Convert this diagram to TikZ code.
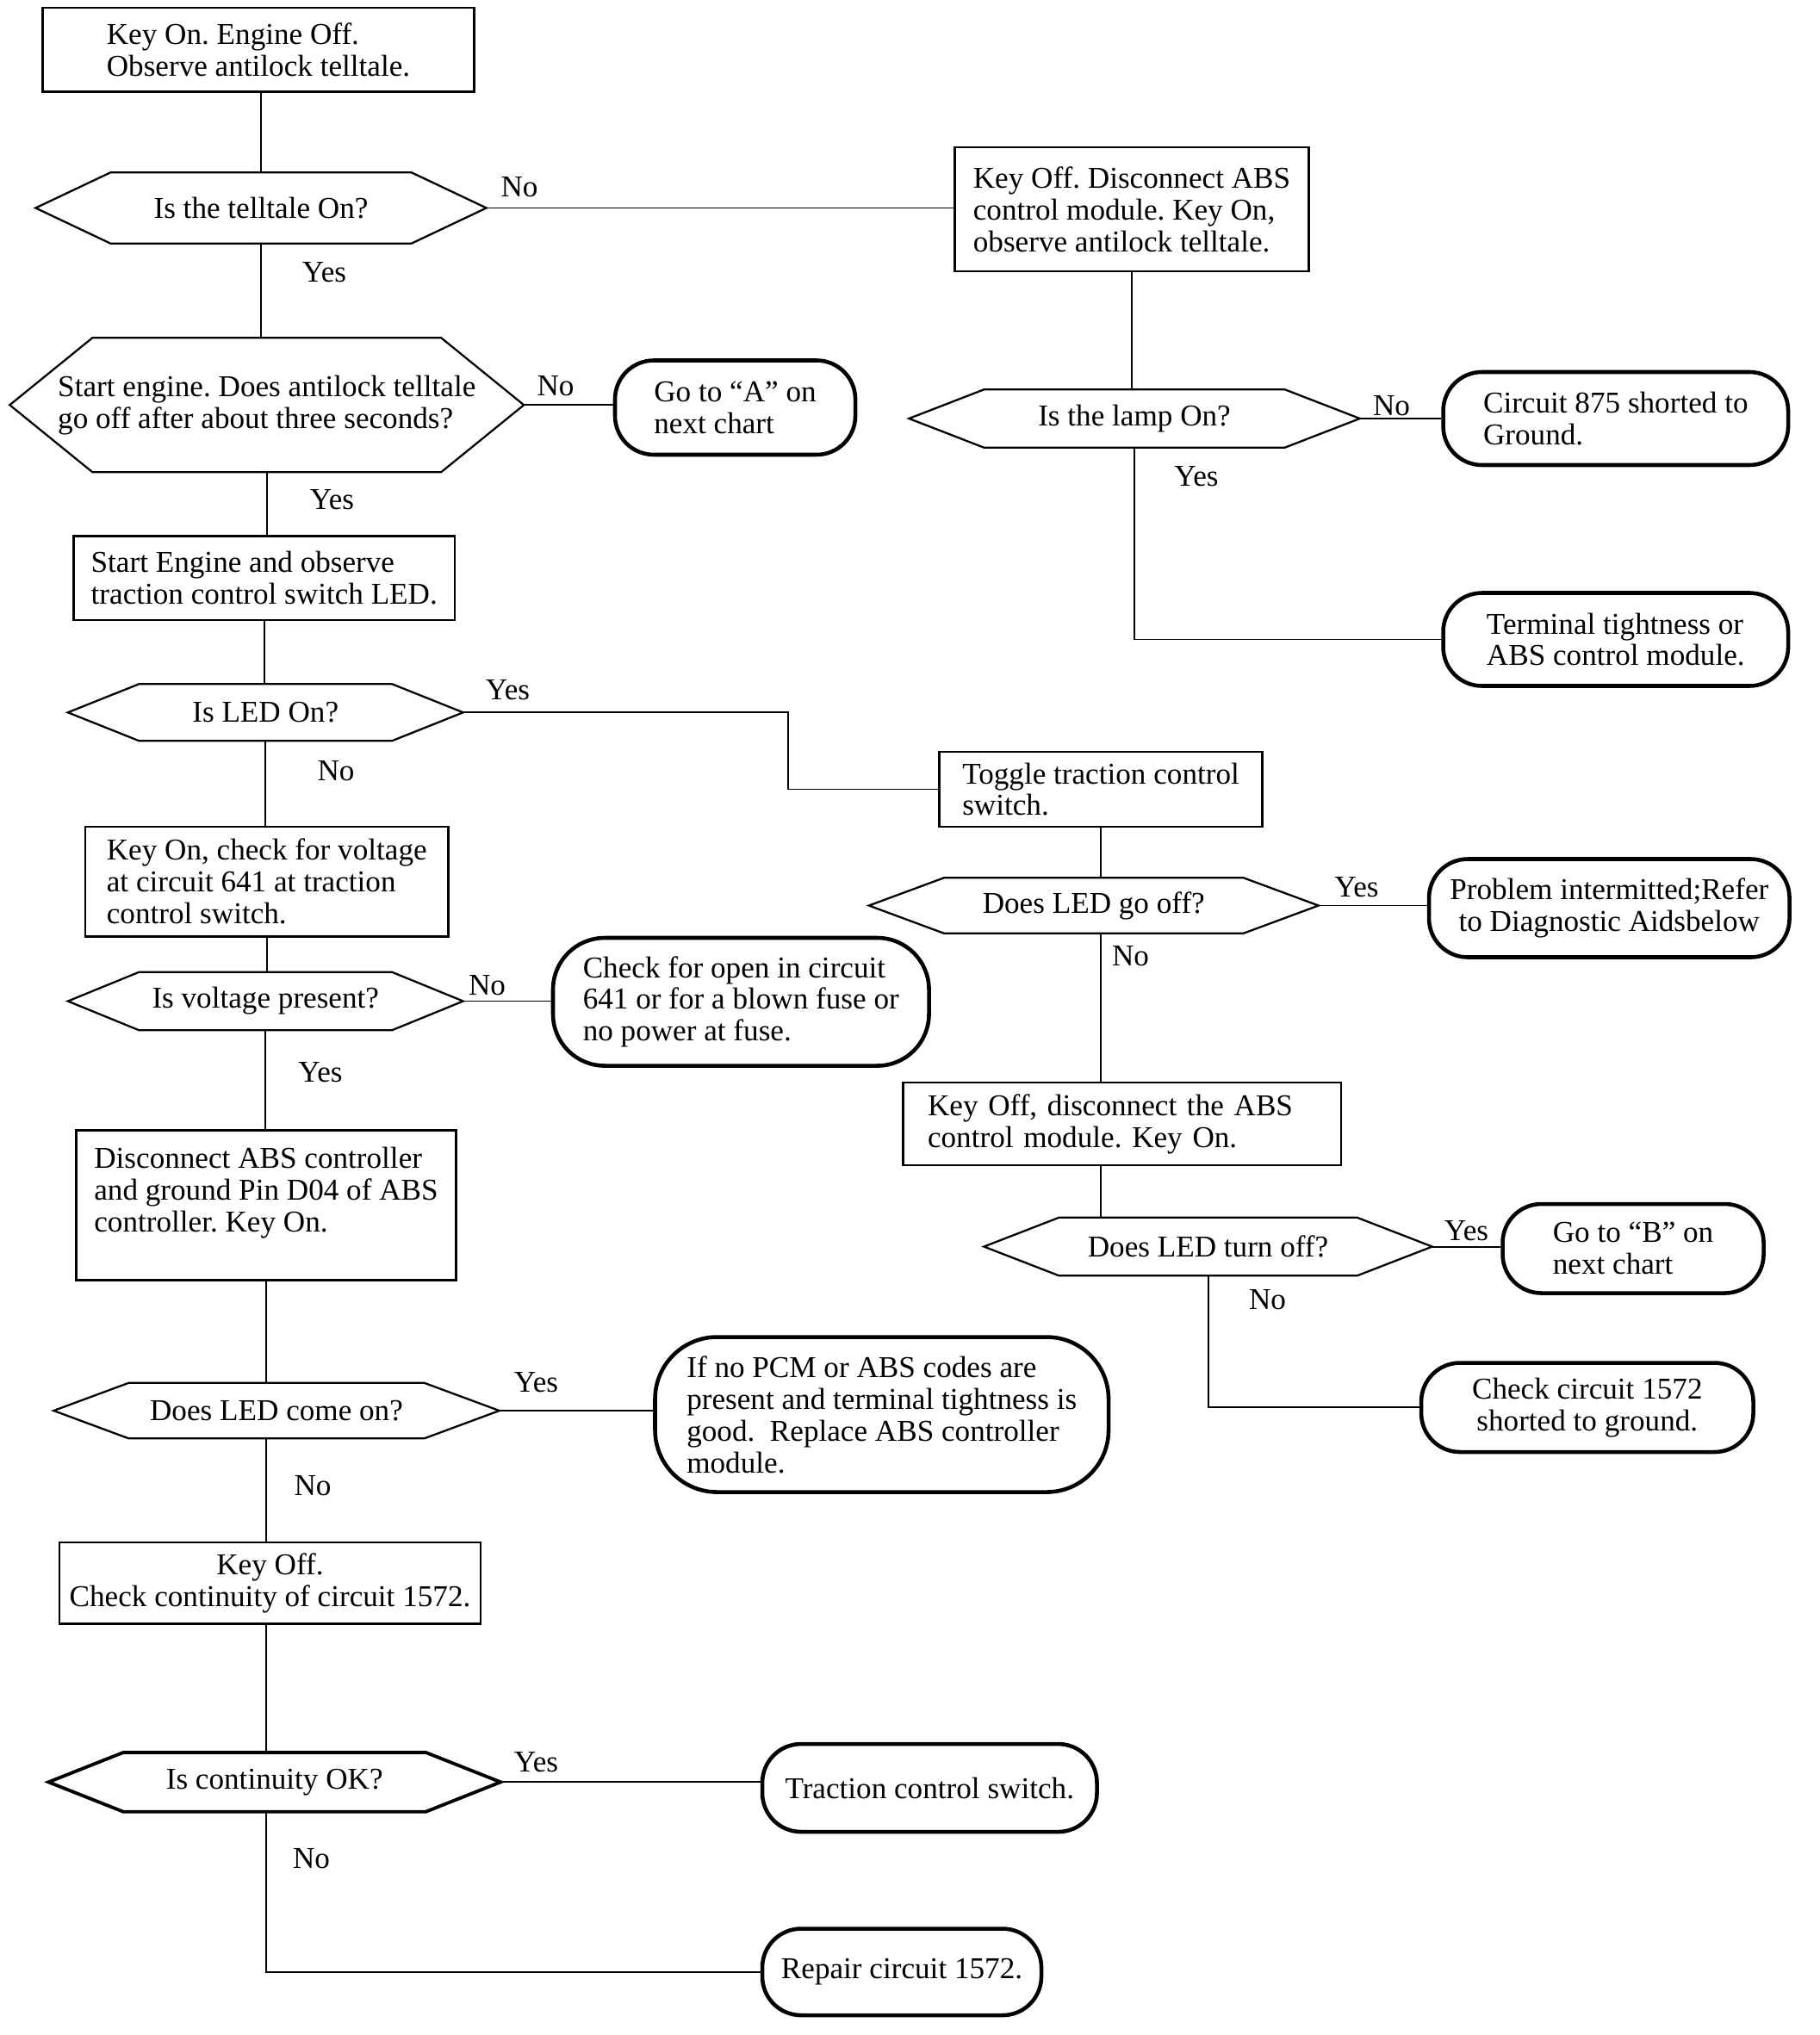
\documentclass[tikz,border=0pt]{standalone}
\usepackage{fontspec}
\setmainfont{Liberation Serif}
\frenchspacing

\newlength{\unitpx}
\setlength{\unitpx}{0.015cm}

\newcommand{\hexframe}[3][]{%
  \draw[line width=0.65pt,#1] (#2.west) -- ([xshift=#3\unitpx]#2.north west)
    -- ([xshift=-#3\unitpx]#2.north east) -- (#2.east)
    -- ([xshift=-#3\unitpx]#2.south east) -- ([xshift=#3\unitpx]#2.south west) -- cycle;}

\tikzset{
  box/.style={draw, line width=0.65pt, inner sep=2pt, align=left},
  term/.style={draw, line width=1.3pt, rounded corners=30\unitpx, inner sep=2pt, align=left},
  hexnode/.style={inner sep=2pt, align=center},
  lbl/.style={inner sep=0pt},
  conn/.style={line width=0.55pt}
}

\begin{document}
\begin{tikzpicture}[x=0.015cm, y=-0.015cm, font=\fontsize{10}{10.5}\selectfont]
          \useasboundingbox (0,0) rectangle (1408,1575.3);

          \node (keyon) at (200,38.5) [box, minimum width=334\unitpx, minimum height=65\unitpx] {Key On. Engine Off.\\Observe antilock telltale.};
          \node (telltale) at (202,161) [hexnode, minimum width=348\unitpx, minimum height=54\unitpx] {Is the telltale On?};
          \node (abskey) at (876,162) [box, minimum width=274\unitpx, minimum height=96\unitpx] {Key Off. Disconnect ABS\\control module. Key On,\\observe antilock telltale.};
          \node (lamp) at (878,324) [hexnode, minimum width=348\unitpx, minimum height=44\unitpx] {Is the lamp On?};
          \node (circuit875) at (1250.5,324) [term, minimum width=267\unitpx, minimum height=72\unitpx] {Circuit 875 shorted to\\Ground.};
          \node (tightness) at (1250.5,495) [term, minimum width=267\unitpx, minimum height=72\unitpx] {Terminal tightness or\\ABS control module.};
          \node (startoff) at (206.5,313.5) [hexnode, align=left, minimum width=397\unitpx, minimum height=103\unitpx] {Start engine. Does antilock telltale\\go off after about three seconds?};
          \node (gotoA) at (569,315.5) [term, minimum width=186\unitpx, minimum height=73\unitpx] {Go to “A” on\\next chart};
          \node (startled) at (204.5,447.5) [box, minimum width=295\unitpx, minimum height=65\unitpx] {Start Engine and observe\\traction control switch LED.};
          \node (ledon) at (205.5,551.5) [hexnode, minimum width=305\unitpx, minimum height=43\unitpx] {Is LED On?};
          \node (toggle) at (852,611) [box, minimum width=250\unitpx, minimum height=58\unitpx] {Toggle traction control\\switch.};
          \node (voltage) at (206.5,682.5) [box, minimum width=281\unitpx, minimum height=85\unitpx] {Key On, check for voltage\\at circuit 641 at traction\\control switch.};
          \node (present) at (205.5,775) [hexnode, minimum width=305\unitpx, minimum height=44\unitpx] {Is voltage present?};
          \node (openckt) at (573.5,775.5) [term, rounded corners=40\unitpx, minimum width=291\unitpx, minimum height=99\unitpx] {Check for open in circuit\\641 or for a blown fuse or\\no power at fuse.};
          \node (ground) at (206,933) [box, minimum width=294\unitpx, minimum height=116\unitpx] {Disconnect ABS controller\\and ground Pin D04 of ABS\\controller. Key On.\\\mbox{}};
          \node (comeon) at (214,1092) [hexnode, minimum width=344\unitpx, minimum height=42\unitpx] {Does LED come on?};
          \node (pcm) at (682.5,1095) [term, rounded corners=48\unitpx, minimum width=351\unitpx, minimum height=120\unitpx] {If no PCM or ABS codes are\\present and terminal tightness is\\good.\ \ Replace ABS controller\\module.};
          \node (contin) at (209,1225.5) [box, align=center, minimum width=326\unitpx, minimum height=63\unitpx] {Key Off.\\Check continuity of circuit 1572.};
          \node (contok) at (212.5,1379.5) [hexnode, minimum width=349\unitpx, minimum height=45\unitpx] {Is continuity OK?};
          \node (tcswitch) at (719.5,1384) [term, minimum width=259\unitpx, minimum height=68\unitpx] {Traction control switch.};
          \node (repair) at (698,1526.5) [term, minimum width=216\unitpx, minimum height=67\unitpx] {Repair circuit 1572.};
          \node (ledoff) at (846.5,701) [hexnode, minimum width=347\unitpx, minimum height=42\unitpx] {Does LED go off?};
          \node (intermit) at (1245.5,703) [term, align=center, minimum width=279\unitpx, minimum height=76\unitpx] {Problem intermitted;Refer\\to Diagnostic Aidsbelow};
          \node (disconn) at (868.5,870) [box, text width=301\unitpx, inner xsep=0pt, minimum width=339\unitpx, minimum height=64\unitpx] {Key Off, disconnect the ABS\\control module. Key On.};
          \node (turnoff) at (935,965) [hexnode, minimum width=346\unitpx, minimum height=44\unitpx] {Does LED turn off?};
          \node (gotoB) at (1264,966.5) [term, minimum width=202\unitpx, minimum height=69\unitpx] {Go to “B” on\\next chart};
          \node (check1572) at (1228.5,1089.5) [term, align=center, minimum width=257\unitpx, minimum height=69\unitpx] {Check circuit 1572\\shorted to ground.};

          \hexframe{telltale}{58}
          \hexframe{lamp}{58}
          \hexframe{startoff}{64}
          \hexframe{ledon}{55}
          \hexframe{present}{55}
          \hexframe{comeon}{58}
          \hexframe[line width=1.1pt]{contok}{58}
          \hexframe{ledoff}{58}
          \hexframe{turnoff}{58}

          \node (no1) at (402,145) [lbl] {No};
          \node (yes1) at (251,211) [lbl] {Yes};
          \node (no2) at (430,299) [lbl] {No};
          \node (yes2) at (257,387) [lbl] {Yes};
          \node (yes3) at (393,534) [lbl] {Yes};
          \node (no3) at (260,597) [lbl] {No};
          \node (no4) at (377,763) [lbl] {No};
          \node (yes4) at (248,830) [lbl] {Yes};
          \node (yes5) at (415,1070) [lbl] {Yes};
          \node (no5) at (242,1150) [lbl] {No};
          \node (yes6) at (415,1364) [lbl] {Yes};
          \node (no6) at (241,1439) [lbl] {No};
          \node (no7) at (1077,314) [lbl] {No};
          \node (yes7) at (926,369) [lbl] {Yes};
          \node (yes8) at (1050,687) [lbl] {Yes};
          \node (no8) at (875,740) [lbl] {No};
          \node (yes9) at (1135,953) [lbl] {Yes};
          \node (no9) at (981,1006) [lbl] {No};

          \coordinate (ledbend) at (610,551.5);

          \draw[conn] (telltale.north) -- (telltale.north |- keyon.south);
          \draw[conn] (telltale.east) -- (telltale.east -| abskey.west);
          \draw[conn] (abskey.south) -- (abskey.south |- lamp.north);
          \draw[conn] (lamp.east) -- (circuit875.west);
          \draw[conn] (lamp.south) |- (tightness.west);
          \draw[conn] (telltale.south) -- (telltale.south |- startoff.north);
          \draw[conn] (startoff.east) -- (startoff.east -| gotoA.west);
          \draw[conn] (startoff.south) -- (startoff.south |- startled.north);
          \draw[conn] (startled.south) -- (startled.south |- ledon.north);
          \draw[conn] (ledon.east) -- (ledbend) |- (toggle.west);
          \draw[conn] (ledon.south) -- (ledon.south |- voltage.north);
          \draw[conn] (voltage.south) -- (voltage.south |- present.north);
          \draw[conn] (present.east) -- (present.east -| openckt.west);
          \draw[conn] (present.south) -- (present.south |- ground.north);
          \draw[conn] (ground.south) -- (ground.south |- comeon.north);
          \draw[conn] (comeon.east) -- (comeon.east -| pcm.west);
          \draw[conn] (ground.south |- comeon.south) -- (ground.south |- contin.north);
          \draw[conn] (ground.south |- contin.south) -- (ground.south |- contok.north);
          \draw[conn] (contok.east) -- (contok.east -| tcswitch.west);
          \draw[conn] (ground.south |- contok.south) |- (repair.west);
          \draw[conn] (toggle.south) -- (toggle.south |- ledoff.north);
          \draw[conn] (ledoff.east) -- (ledoff.east -| intermit.west);
          \draw[conn] (toggle.south |- ledoff.south) -- (toggle.south |- disconn.north);
          \draw[conn] (toggle.south |- disconn.south) -- (toggle.south |- turnoff.north);
          \draw[conn] (turnoff.east) -- (turnoff.east -| gotoB.west);
          \draw[conn] (turnoff.south) |- (check1572.west);
    \end{tikzpicture}
\end{document}
